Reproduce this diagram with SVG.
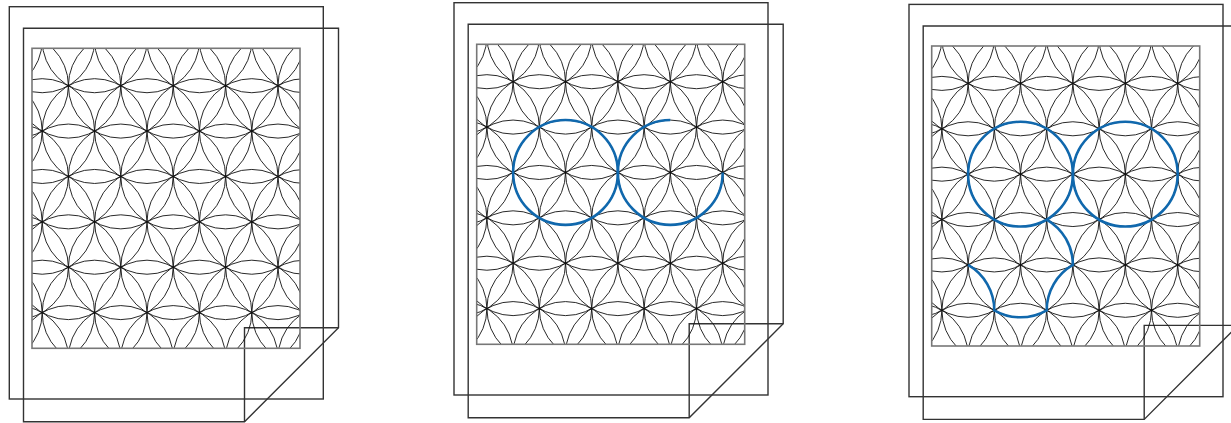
<svg xmlns="http://www.w3.org/2000/svg" xmlns:xlink="http://www.w3.org/1999/xlink" width="1231" height="423" viewBox="0 0 1231 423">
<style>
.c{fill:none;stroke:#111;stroke-width:0.9}
.frame{fill:none;stroke:#333;stroke-width:1.4}
.inner{fill:none;stroke:#777;stroke-width:1.6}
.blue{fill:none;stroke:#1068ad;stroke-width:2.6}
</style>
<defs>
<clipPath id="clip"><rect x="0" y="0" width="268" height="300"/></clipPath>
<g id="flower" class="c">
<circle cx="-42.2" cy="-7.98" r="52.4"/><circle cx="10.2" cy="-7.98" r="52.4"/><circle cx="62.6" cy="-7.98" r="52.4"/><circle cx="115" cy="-7.98" r="52.4"/><circle cx="167.4" cy="-7.98" r="52.4"/><circle cx="219.8" cy="-7.98" r="52.4"/><circle cx="272.2" cy="-7.98" r="52.4"/>
<circle cx="-16" cy="37.4" r="52.4"/><circle cx="36.4" cy="37.4" r="52.4"/><circle cx="88.8" cy="37.4" r="52.4"/><circle cx="141.2" cy="37.4" r="52.4"/><circle cx="193.6" cy="37.4" r="52.4"/><circle cx="246" cy="37.4" r="52.4"/><circle cx="298.4" cy="37.4" r="52.4"/>
<circle cx="-42.2" cy="82.78" r="52.4"/><circle cx="10.2" cy="82.78" r="52.4"/><circle cx="62.6" cy="82.78" r="52.4"/><circle cx="115" cy="82.78" r="52.4"/><circle cx="167.4" cy="82.78" r="52.4"/><circle cx="219.8" cy="82.78" r="52.4"/><circle cx="272.2" cy="82.78" r="52.4"/>
<circle cx="-16" cy="128.16" r="52.4"/><circle cx="36.4" cy="128.16" r="52.4"/><circle cx="88.8" cy="128.16" r="52.4"/><circle cx="141.2" cy="128.16" r="52.4"/><circle cx="193.6" cy="128.16" r="52.4"/><circle cx="246" cy="128.16" r="52.4"/><circle cx="298.4" cy="128.16" r="52.4"/>
<circle cx="-42.2" cy="173.54" r="52.4"/><circle cx="10.2" cy="173.54" r="52.4"/><circle cx="62.6" cy="173.54" r="52.4"/><circle cx="115" cy="173.54" r="52.4"/><circle cx="167.4" cy="173.54" r="52.4"/><circle cx="219.8" cy="173.54" r="52.4"/><circle cx="272.2" cy="173.54" r="52.4"/>
<circle cx="-16" cy="218.92" r="52.4"/><circle cx="36.4" cy="218.92" r="52.4"/><circle cx="88.8" cy="218.92" r="52.4"/><circle cx="141.2" cy="218.92" r="52.4"/><circle cx="193.6" cy="218.92" r="52.4"/><circle cx="246" cy="218.92" r="52.4"/><circle cx="298.4" cy="218.92" r="52.4"/>
<circle cx="-42.2" cy="264.3" r="52.4"/><circle cx="10.2" cy="264.3" r="52.4"/><circle cx="62.6" cy="264.3" r="52.4"/><circle cx="115" cy="264.3" r="52.4"/><circle cx="167.4" cy="264.3" r="52.4"/><circle cx="219.8" cy="264.3" r="52.4"/><circle cx="272.2" cy="264.3" r="52.4"/>
<circle cx="-16" cy="309.68" r="52.4"/><circle cx="36.4" cy="309.68" r="52.4"/><circle cx="88.8" cy="309.68" r="52.4"/><circle cx="141.2" cy="309.68" r="52.4"/><circle cx="193.6" cy="309.68" r="52.4"/><circle cx="246" cy="309.68" r="52.4"/><circle cx="298.4" cy="309.68" r="52.4"/>
</g>
<g id="page">
<rect class="frame" x="-22.7" y="-41.6" width="314" height="392.3"/>
<path class="frame" d="M -8.5,-20 H 306.5 V 279.4 L 212.5,373.4 H -8.5 Z"/>
<path class="frame" d="M 212.5,373.4 V 279.4 H 306.5"/>
<use xlink:href="#flower" href="#flower" clip-path="url(#clip)"/>
<rect class="inner" x="0" y="0" width="268" height="300"/>
</g>
</defs>
<g id="panel1" transform="translate(32,48.3)">
<use xlink:href="#page" href="#page"/>
</g>
<g id="panel2" transform="translate(476.7,44.3)">
<use xlink:href="#page" href="#page"/>
<circle class="blue" cx="88.8" cy="128.16" r="52.4"/>
<path class="blue" d="M 246,128.16 A 52.4 52.4 0 1 1 193.6,75.76"/>
</g>
<g id="panel3" transform="translate(931.7,46)">
<use xlink:href="#page" href="#page"/>
<circle class="blue" cx="88.8" cy="128.16" r="52.4"/>
<circle class="blue" cx="193.6" cy="128.16" r="52.4"/>
<path class="blue" d="M 115,173.54 A 52.4 52.4 0 0 1 141.2,218.92 A 52.4 52.4 0 0 0 115,264.3 A 52.4 52.4 0 0 1 62.6,264.3 A 52.4 52.4 0 0 0 36.4,218.92"/>
</g>
</svg>
